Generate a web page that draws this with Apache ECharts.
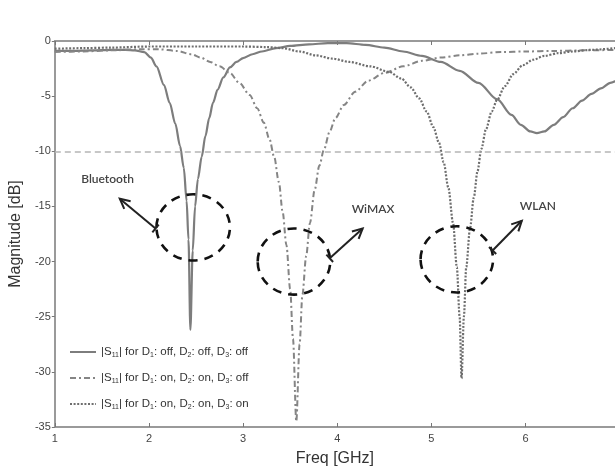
<!DOCTYPE html>
<html>
<head>
<meta charset="utf-8">
<script src="https://cdn.jsdelivr.net/npm/echarts@6/dist/echarts.min.js"></script>
<style>
html,body{margin:0;padding:0;background:#fff;}
#c{width:615px;height:472px;}
</style>
</head>
<body>
<div id="c"></div>
<script>
// ---- data ----
const xMin = 1, xMaxVisible = 6.95;   // plot is cut at the right edge just before 7 GHz
const yMin = -35, yMax = 0;
const threshold = -10;

// |S11| for D1: off, D2: off, D3: off
const s1Freq = [1.0, 1.2, 1.4, 1.6, 1.75, 1.85, 1.95, 2.02, 2.08, 2.16, 2.22, 2.28, 2.33, 2.37, 2.40, 2.42, 2.44, 2.465, 2.49, 2.52, 2.56, 2.60, 2.64, 2.68, 2.73, 2.79, 2.86, 2.93, 3.0, 3.1, 3.2, 3.35, 3.5, 3.7, 3.9, 4.1, 4.3, 4.5, 4.7, 4.9, 5.1, 5.3, 5.5, 5.7, 5.85, 5.95, 6.05, 6.12, 6.2, 6.3, 6.4, 6.5, 6.6, 6.7, 6.8, 6.9, 7.0];
const s1Mag  = [-0.9, -0.9, -0.85, -0.8, -0.8, -0.85, -1.0, -1.5, -2.3, -4.0, -5.6, -7.5, -9.5, -11.5, -14.5, -18.0, -26.2, -19.0, -15.0, -12.5, -10.5, -8.6, -7.0, -5.6, -4.4, -3.3, -2.4, -1.9, -1.55, -1.2, -0.95, -0.65, -0.45, -0.3, -0.2, -0.2, -0.35, -0.6, -0.95, -1.35, -1.9, -2.7, -3.8, -5.3, -6.7, -7.6, -8.2, -8.35, -8.2, -7.6, -6.9, -6.1, -5.4, -4.8, -4.3, -3.8, -3.4];

// |S11| for D1: on, D2: on, D3: off
const s2Freq = [1.0, 1.3, 1.6, 1.9, 2.1, 2.3, 2.45, 2.55, 2.65, 2.75, 2.86, 2.96, 3.07, 3.15, 3.22, 3.28, 3.33, 3.38, 3.42, 3.46, 3.50, 3.53, 3.565, 3.60, 3.63, 3.67, 3.71, 3.76, 3.81, 3.86, 3.92, 3.98, 4.07, 4.19, 4.33, 4.5, 4.7, 4.9, 5.1, 5.3, 5.5, 5.74, 6.0, 6.3, 6.6, 7.0];
const s2Mag  = [-1.0, -0.95, -0.85, -0.75, -0.75, -0.9, -1.2, -1.5, -1.9, -2.3, -2.9, -3.8, -4.9, -6.1, -7.4, -8.9, -10.5, -12.8, -15.5, -18.5, -22.5, -27.0, -34.5, -27.5, -23.0, -19.5, -16.5, -13.5, -11.3, -9.8, -8.2, -7.0, -5.8, -4.6, -3.6, -2.9, -2.3, -1.8, -1.5, -1.3, -1.15, -1.0, -0.95, -0.9, -0.85, -0.8];

// |S11| for D1: on, D2: on, D3: on
const s3Freq = [1.0, 1.3, 1.6, 2.0, 2.5, 3.0, 3.25, 3.42, 3.6, 3.77, 3.95, 4.13, 4.35, 4.55, 4.68, 4.78, 4.87, 4.95, 5.02, 5.08, 5.13, 5.18, 5.23, 5.27, 5.30, 5.32, 5.345, 5.37, 5.41, 5.45, 5.49, 5.53, 5.58, 5.64, 5.7, 5.78, 5.87, 5.97, 6.08, 6.2, 6.35, 6.5, 6.7, 7.0];
const s3Mag  = [-0.7, -0.65, -0.6, -0.5, -0.5, -0.5, -0.55, -0.65, -0.95, -1.3, -1.6, -1.9, -2.3, -2.8, -3.4, -4.2, -5.2, -6.4, -7.8, -9.2, -11.0, -13.3, -16.5, -20.5, -25.0, -30.6, -25.0, -20.5, -17.0, -14.2, -11.8, -9.8, -8.0, -6.4, -5.3, -4.1, -3.0, -2.2, -1.7, -1.35, -1.1, -0.95, -0.8, -0.6];

const seriesNames = ['s1', 's2', 's3'];
const legendTexts = {
  s1: '|S{sub|11}| for D{sub|1}: off, D{sub|2}: off, D{sub|3}: off',
  s2: '|S{sub|11}| for D{sub|1}: on, D{sub|2}: on, D{sub|3}: off',
  s3: '|S{sub|11}| for D{sub|1}: on, D{sub|2}: on, D{sub|3}: on'
};

// annotations (data coordinates)
const bandLabels = ['Bluetooth', 'WiMAX', 'WLAN'];
const ellipseCenters = [[2.47, -16.9], [3.54, -20.0], [5.27, -19.8]];
const ellipseRadii = [[0.39, 3.0], [0.385, 3.0], [0.385, 3.0]];
const arrowFrom = [[2.07, -17.0], [3.92, -19.7], [5.65, -19.0]];
const arrowTo = [[1.69, -14.3], [4.27, -17.0], [5.96, -16.3]];
const labelPos = [[1.56, -12.5], [4.38, -15.2], [6.13, -15.0]];

const zip = (a, b) => a.map((v, i) => [v, b[i]]);

const chart = echarts.init(document.getElementById('c'), null, {renderer: 'canvas'});
const axisGray = '#9a9a9a';
const font = 'Liberation Sans, Arial, sans-serif';

const option = {
  animation: false,
  backgroundColor: '#fff',
  grid: {left: 51, right: 0, top: 41, bottom: 43, containLabel: false},
  legend: {
    show: true,
    orient: 'vertical',
    left: 64,
    top: 341,
    itemWidth: 26,
    itemHeight: 12,
    itemGap: 13,
    data: seriesNames,
    itemStyle: {color: 'rgba(0,0,0,0)', borderColor: 'rgba(0,0,0,0)', borderWidth: 0},
    formatter: n => legendTexts[n],
    textStyle: {
      fontFamily: font, fontSize: 11.5, color: '#333',
      rich: {sub: {fontFamily: font, fontSize: 7, color: '#333', padding: [7, 0, 0, 0]}}
    }
  },
  xAxis: [{
    type: 'value', min: xMin, max: xMaxVisible, interval: 1,
    name: 'Freq [GHz]', nameLocation: 'middle', nameGap: 24,
    nameTextStyle: {fontFamily: font, fontSize: 16, color: '#333'},
    axisLine: {show: true, onZero: false, lineStyle: {color: axisGray, width: 2}},
    axisTick: {show: true, inside: true, length: 4, lineStyle: {color: '#777'}},
    axisLabel: {fontFamily: font, fontSize: 11, color: '#444', margin: 6, showMaxLabel: false},
    splitLine: {show: false}
  }, {
    type: 'value', position: 'top', min: xMin, max: xMaxVisible, interval: 1,
    axisLine: {show: true, onZero: false, lineStyle: {color: axisGray, width: 2}},
    axisTick: {show: true, inside: true, length: 4, lineStyle: {color: '#777'}},
    axisLabel: {show: false}, splitLine: {show: false}
  }],
  yAxis: {
    type: 'value', min: yMin, max: yMax, interval: 5,
    name: 'Magnitude [dB]', nameLocation: 'middle', nameGap: 30, nameRotate: 90,
    nameTextStyle: {fontFamily: font, fontSize: 16, color: '#333'},
    axisLine: {show: true, onZero: false, lineStyle: {color: axisGray, width: 2}},
    axisTick: {show: true, inside: false, length: 3, lineStyle: {color: '#777'}},
    axisLabel: {fontFamily: font, fontSize: 11, color: '#444', margin: 4},
    splitLine: {show: false}
  },
  series: [
    {
      name: 's1', type: 'line', data: zip(s1Freq, s1Mag), showSymbol: false, symbol: 'none',
      smooth: 0.3, smoothMonotone: 'x', clip: true,
      lineStyle: {color: '#7d7d7d', width: 2.2, type: 'solid'},
      itemStyle: {color: '#7d7d7d'},
      markLine: {
        silent: true, symbol: ['none', 'none'], label: {show: false},
        lineStyle: {color: '#b5b5b5', width: 1.6, type: [6, 4]},
        data: [{yAxis: threshold}]
      }
    },
    {
      name: 's2', type: 'line', data: zip(s2Freq, s2Mag), showSymbol: false, symbol: 'none',
      smooth: 0.3, smoothMonotone: 'x', clip: true,
      lineStyle: {color: '#858585', width: 2, type: [6, 3, 2, 3]},
      itemStyle: {color: '#858585'}
    },
    {
      name: 's3', type: 'line', data: zip(s3Freq, s3Mag), showSymbol: false, symbol: 'none',
      smooth: 0.3, smoothMonotone: 'x', clip: true,
      lineStyle: {color: '#6e6e6e', width: 2.2, type: [2, 1.6]},
      itemStyle: {color: '#6e6e6e'}
    }
  ]
};
chart.setOption(option);

function px(p) { return chart.convertToPixel({gridIndex: 0}, p); }

const g = [];
for (let i = 0; i < bandLabels.length; i++) {
  const c = px(ellipseCenters[i]);
  const e1 = px([ellipseCenters[i][0] + ellipseRadii[i][0], ellipseCenters[i][1] + ellipseRadii[i][1]]);
  const rx = Math.abs(e1[0] - c[0]), ry = Math.abs(e1[1] - c[1]);
  g.push({type: 'ellipse', shape: {cx: c[0], cy: c[1], rx: rx, ry: ry}, z: 100,
    style: {fill: 'none', stroke: '#111', lineWidth: 2.6, lineDash: [9, 7]}});
  const a = px(arrowFrom[i]), b = px(arrowTo[i]);
  const dx = b[0] - a[0], dy = b[1] - a[1], L = Math.hypot(dx, dy);
  const ux = dx / L, uy = dy / L, nx = -uy, ny = ux;
  g.push({type: 'line', shape: {x1: a[0], y1: a[1], x2: b[0], y2: b[1]}, z: 100,
    style: {stroke: '#222', lineWidth: 2}});
  g.push({type: 'line', shape: {x1: a[0] - nx * 5, y1: a[1] - ny * 5, x2: a[0] + nx * 5, y2: a[1] + ny * 5}, z: 100,
    style: {stroke: '#222', lineWidth: 2}});
  const hl = 10, hw = 5;
  g.push({type: 'polyline', shape: {points: [
      [b[0] - ux * hl + nx * hw, b[1] - uy * hl + ny * hw], [b[0], b[1]],
      [b[0] - ux * hl - nx * hw, b[1] - uy * hl - ny * hw]]}, z: 100,
    style: {fill: 'none', stroke: '#222', lineWidth: 2}});
  const lp = px(labelPos[i]);
  g.push({type: 'text', x: lp[0], y: lp[1], z: 100,
    style: {text: bandLabels[i], fill: '#444', font: '600 12px Lato, "Open Sans", sans-serif',
      textAlign: 'center', textVerticalAlign: 'middle'}});
}
chart.setOption({graphic: g});
</script>
</body>
</html>
